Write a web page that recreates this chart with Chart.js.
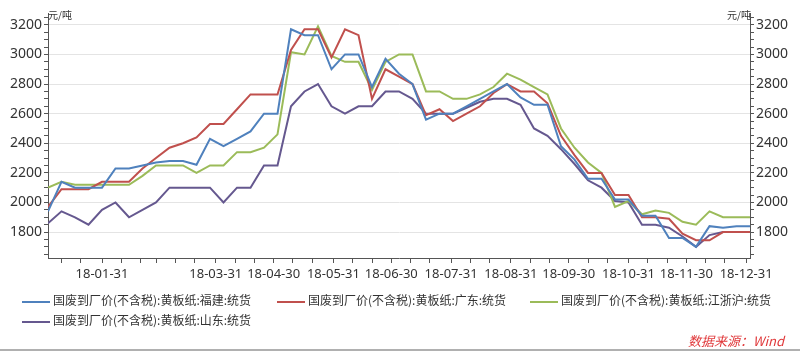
<!DOCTYPE html>
<html>
<head>
<meta charset="utf-8">
<script src="https://cdn.jsdelivr.net/npm/chart.js@4"></script>
<style>
    body { margin: 0; background: #fff; }
    #wrap { position: relative; width: 800px; height: 352px; font-family: "Noto Sans CJK SC", "Noto Sans", sans-serif; }
    .unit { position: absolute; top: 7px; font-size: 10px; color: #333; }
    #legend { position: absolute; left: 0; top: 291px; width: 800px; }
    .item { position: absolute; font-size: 12px; color: #333; white-space: nowrap; line-height: 18px; }
    .item span.swatch { display: inline-block; width: 28px; height: 2px; vertical-align: middle; margin-right: 3px; }
    #source { position: absolute; right: 16px; top: 331px; color: #e0383a; font-style: italic; font-size: 13px; }
    #bottomline { position: absolute; left: 0; top: 349px; width: 800px; height: 2px; background: #b0b0b0; }
</style>
</head>
<body>
<div id="wrap">
    <canvas id="chart" width="800" height="352"></canvas>
    <div class="unit" style="left:48px">元/吨</div>
    <div class="unit" style="left:727px">元/吨</div>
    <div id="legend"></div>
    <div id="source">数据来源：Wind</div>
    <div id="bottomline"></div>
</div>
<script>
// Weekly dates (2018)
const dates = [
    '2018-01-03', '2018-01-10', '2018-01-17', '2018-01-24', '2018-01-31',
    '2018-02-07', '2018-02-14', '2018-02-21', '2018-02-28',
    '2018-03-07', '2018-03-14', '2018-03-21', '2018-03-28',
    '2018-04-04', '2018-04-11', '2018-04-18', '2018-04-25',
    '2018-05-02', '2018-05-09', '2018-05-16', '2018-05-23', '2018-05-30',
    '2018-06-06', '2018-06-13', '2018-06-20', '2018-06-27',
    '2018-07-04', '2018-07-11', '2018-07-18', '2018-07-25',
    '2018-08-01', '2018-08-08', '2018-08-15', '2018-08-22', '2018-08-29',
    '2018-09-05', '2018-09-12', '2018-09-19', '2018-09-26',
    '2018-10-03', '2018-10-10', '2018-10-17', '2018-10-24', '2018-10-31',
    '2018-11-07', '2018-11-14', '2018-11-21', '2018-11-28',
    '2018-12-05', '2018-12-12', '2018-12-19', '2018-12-26', '2019-01-02'
];

// Series values (元/吨)
const fujian = [1940, 2140, 2100, 2100, 2100, 2230, 2230, 2250, 2270, 2280, 2280, 2255, 2430, 2380, 2430, 2480, 2600, 2600,
    3170, 3130, 3130, 2900, 3000, 3000, 2780, 2970, 2870, 2800, 2560, 2600, 2600, 2650, 2700, 2750, 2800, 2710, 2660, 2660,
    2380, 2290, 2160, 2160, 2020, 2020, 1910, 1910, 1760, 1760, 1700, 1840, 1830, 1840, 1840];
const guangdong = [1970, 2090, 2090, 2090, 2140, 2140, 2140, 2230, 2300, 2370, 2400, 2440, 2530, 2530, 2630, 2730, 2730, 2730,
    3030, 3170, 3170, 2980, 3170, 3130, 2700, 2900, 2850, 2800, 2590, 2630, 2550, 2600, 2650, 2740, 2800, 2750, 2750, 2670,
    2450, 2320, 2200, 2200, 2050, 2050, 1900, 1900, 1890, 1790, 1745, 1745, 1800, 1800, 1800];
const jiangzhehu = [2100, 2140, 2120, 2120, 2120, 2120, 2120, 2180, 2250, 2250, 2250, 2200, 2250, 2250, 2340, 2340, 2370, 2460,
    3015, 3000, 3190, 2990, 2950, 2950, 2760, 2950, 3000, 3000, 2750, 2750, 2700, 2700, 2730, 2780, 2870, 2830, 2780, 2730,
    2500, 2370, 2270, 2200, 1970, 2010, 1920, 1945, 1930, 1870, 1850, 1940, 1900, 1900, 1900];
const shandong = [1860, 1940, 1900, 1850, 1950, 2000, 1900, 1950, 2000, 2100, 2100, 2100, 2100, 2000, 2100, 2100, 2250, 2250,
    2650, 2750, 2800, 2650, 2600, 2650, 2650, 2750, 2750, 2700, 2600, 2600, 2600, 2640, 2680, 2700, 2700, 2660, 2500, 2450,
    2360, 2260, 2150, 2100, 2010, 2000, 1850, 1850, 1830, 1770, 1700, 1780, 1800, 1800, 1800];

const seriesNames = [
    '国废到厂价(不含税):黄板纸:福建:统货',
    '国废到厂价(不含税):黄板纸:广东:统货',
    '国废到厂价(不含税):黄板纸:江浙沪:统货',
    '国废到厂价(不含税):黄板纸:山东:统货'
];
const seriesColors = ['#4f81bd', '#c0504d', '#9bbb59', '#65588f'];

// Axis ticks
const monthEnds = ['2018-01-31', '2018-02-28', '2018-03-31', '2018-04-30', '2018-05-31', '2018-06-30',
    '2018-07-31', '2018-08-31', '2018-09-30', '2018-10-31', '2018-11-30', '2018-12-31'];
const hiddenLabels = ['2018-02-28'];
const yLabels = [1800, 2000, 2200, 2400, 2600, 2800, 3000, 3200];

// day number counted from 2018-01-01
function dayOf(s) {
    const p = s.split('-').map(Number);
    return (Date.UTC(p[0], p[1] - 1, p[2]) - Date.UTC(2018, 0, 1)) / 86400000;
}

const labelByDay = {};
monthEnds.forEach(d => {
    if (!hiddenLabels.includes(d)) labelByDay[dayOf(d)] = d.slice(2);
});

// month-end ticks plus small ticks on the 10th and 20th
const xTickDays = [];
for (let m = 1; m <= 12; m++) {
    const mm = String(m).padStart(2, '0');
    xTickDays.push(dayOf('2018-' + mm + '-10'), dayOf('2018-' + mm + '-20'));
}
monthEnds.forEach(d => xTickDays.push(dayOf(d)));
xTickDays.sort((a, b) => a - b);

const yTickValues = [];
for (let v = 1650; v <= 3250; v += 50) yTickValues.push(v);

const xs = dates.map(dayOf);
const allSeries = [fujian, guangdong, jiangzhehu, shandong];

const datasets = allSeries.map((vals, i) => ({
    label: seriesNames[i],
    data: vals.map((v, j) => ({ x: xs[j], y: v })),
    borderColor: seriesColors[i],
    backgroundColor: seriesColors[i],
    borderWidth: 2,
    pointRadius: 0,
    tension: 0,
    fill: false
}));

const tickFont = { family: '"Noto Sans", "Noto Sans CJK SC", sans-serif', size: 13 };

function yAxis(position, width, drawGrid) {
    return {
        type: 'linear',
        position: position,
        min: 1625,
        max: 3280,
        afterBuildTicks: scale => { scale.ticks = yTickValues.map(v => ({ value: v })); },
        afterFit: scale => { scale.width = width; },
        ticks: {
            autoSkip: false,
            padding: 2,
            color: '#333',
            font: { ...tickFont, size: 14 },
            callback: v => yLabels.includes(v) ? String(v) : ''
        },
        grid: {
            drawOnChartArea: drawGrid,
            drawTicks: true,
            tickLength: 4,
            color: ctx => (ctx.tick && yLabels.includes(ctx.tick.value)) ? '#e4e4e4' : 'rgba(0,0,0,0)',
            tickColor: '#555'
        },
        border: { display: true, color: '#555', width: 1 }
    };
}

new Chart(document.getElementById('chart'), {
    type: 'line',
    data: { datasets },
    options: {
        responsive: false,
        animation: false,
        devicePixelRatio: 1,
        layout: { padding: { top: 13, left: 0, right: 0, bottom: 0 } },
        plugins: {
            legend: { display: false },
            tooltip: { enabled: false }
        },
        scales: {
            x: {
                type: 'linear',
                min: xs[0],
                max: xs[xs.length - 1],
                afterBuildTicks: scale => { scale.ticks = xTickDays.map(v => ({ value: v })); },
                afterFit: scale => { scale.height = 94; },
                ticks: {
                    autoSkip: false,
                    maxRotation: 0,
                    padding: 3,
                    color: '#333',
                    font: tickFont,
                    callback: v => labelByDay[v] || ''
                },
                grid: {
                    drawOnChartArea: false,
                    drawTicks: true,
                    tickLength: 5,
                    tickColor: '#555'
                },
                border: { display: true, color: '#555', width: 1 }
            },
            y: yAxis('left', 48, true),
            y2: yAxis('right', 50, false)
        }
    }
});

// HTML legend, laid out like the original (three columns)
const legendPos = [[22, 0], [277, 0], [530, 0], [22, 20]];
const legend = document.getElementById('legend');
datasets.forEach((ds, i) => {
    const el = document.createElement('div');
    el.className = 'item';
    el.style.left = legendPos[i][0] + 'px';
    el.style.top = legendPos[i][1] + 'px';
    el.innerHTML = '<span class="swatch" style="background:' + ds.borderColor + '"></span>' + ds.label;
    legend.appendChild(el);
});
</script>
</body>
</html>
